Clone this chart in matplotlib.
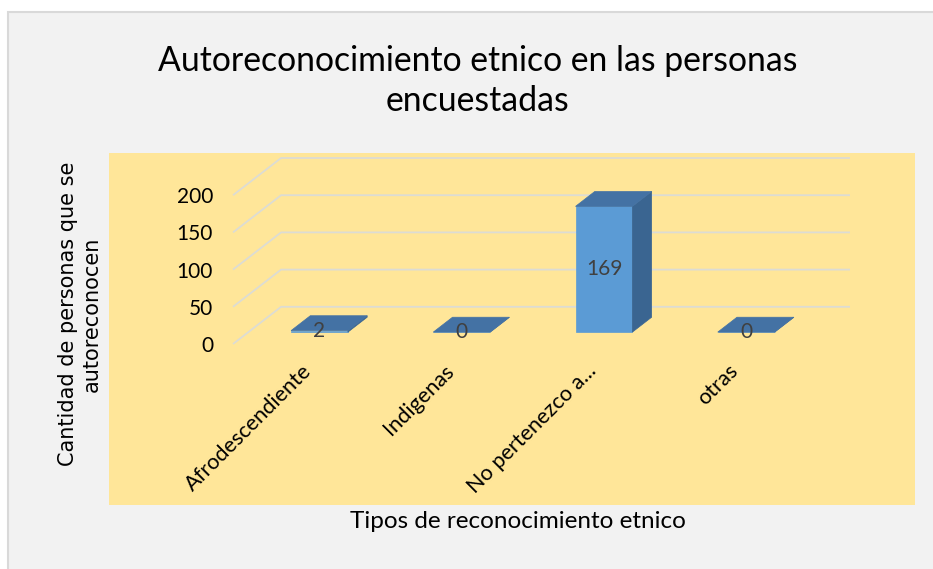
import matplotlib
matplotlib.use('Agg')
import matplotlib.pyplot as plt
from matplotlib.patches import Rectangle, Polygon

# datos del grafico
categories = ['Afrodescendiente', 'Indigenas', 'No pertenezco a...', 'otras']
values = [2, 0, 169, 0]
y_ticks = [0, 50, 100, 150, 200]

title = 'Autoreconocimiento etnico en las personas\nencuestadas'
x_title = 'Tipos de reconocimiento etnico'
y_title = 'Cantidad de personas que se\nautoreconocen'

plt.rcParams['font.family'] = ['Lato', 'DejaVu Sans']

W, H = 933, 569
fig = plt.figure(figsize=(W / 100, H / 100), dpi=100)
fig.patch.set_facecolor('white')


def px(x, y, w, h):
    # caja en pixeles (desde arriba a la izquierda) -> coords de figura
    return [x / W, 1 - (y + h) / H, w / W, h / H]


# fondo del grafico y area de trazado
fig.patches.append(Rectangle((8 / W, -0.1), 1, 1 - 12 / H + 0.1, transform=fig.transFigure,
                             fc='#f2f2f2', ec='#d9d9d9', lw=1.5, zorder=-2))
fig.patches.append(Rectangle((109 / W, 1 - 505 / H), (915 - 109) / W, (505 - 153) / H,
                             transform=fig.transFigure, fc='#ffe699', ec='none', zorder=-1))

# efecto 3D: desplazamiento de profundidad
KX = 0.338   # en unidades de categoria
KY = 50      # en unidades de valor
d0, d1 = 0.32, 0.72
bw = 0.4

ax = fig.add_axes(px(233, 158, 617, 186))
ax.set_zorder(2)
ax.set_xlim(-0.5, 3.5 + KX)
ax.set_ylim(0, 250)
ax.patch.set_visible(False)
for s in ax.spines.values():
    s.set_visible(False)

for v in y_ticks:
    ax.plot([-0.5, -0.5 + KX, 3.5 + KX], [v, v + KY, v + KY], color='#dcdcd4', lw=1.3,
            zorder=1, clip_on=False, solid_capstyle='butt')

ddx = (d1 - d0) * KX
ddy = (d1 - d0) * KY
for i, v in enumerate(values):
    x0 = i - bw / 2 + d0 * KX
    x1 = x0 + bw
    yb = d0 * KY
    yt = yb + v
    front = [(x0, yb), (x1, yb), (x1, yt), (x0, yt)]
    top = [(x0, yt), (x1, yt), (x1 + ddx, yt + ddy), (x0 + ddx, yt + ddy)]
    side = [(x1, yb), (x1 + ddx, yb + ddy), (x1 + ddx, yt + ddy), (x1, yt)]
    ax.add_patch(Polygon(front, closed=True, fc='#5b9bd5', ec='#5b9bd5', lw=0.5, zorder=3))
    ax.add_patch(Polygon(side, closed=True, fc='#3a6591', ec='#3a6591', lw=0.5, zorder=3))
    ax.add_patch(Polygon(top, closed=True, fc='#4472a4', ec='#4472a4', lw=0.5, zorder=3))
    ax.text(x0 + bw / 2, yb + v / 2, str(v), ha='center', va='center', fontsize=15,
            color='#404040', zorder=4)

ax.set_yticks(y_ticks)
ax.tick_params(axis='y', length=0, pad=14.4, labelsize=15, labelcolor='#000000')
ax.set_xticks([i + 0.03 for i in range(len(categories))])
ax.set_xticklabels(categories, rotation=45, ha='right', va='center', rotation_mode='anchor')
ax.tick_params(axis='x', length=0, pad=17, labelsize=15.6, labelcolor='#000000')

fig.text(478 / W, 1 - 81 / H, title, ha='center', va='center', fontsize=24.3,
         linespacing=1.3, color='#000000')
fig.text(518 / W, 1 - 522 / H, x_title, ha='center', va='center', fontsize=17.5,
         color='#000000')
fig.text(80 / W, 1 - 314 / H, y_title, rotation=90, ha='center', va='center',
         family=['DejaVu Sans'], fontsize=15, multialignment='center', color='#000000')

fig.savefig('out.png', dpi=100)
